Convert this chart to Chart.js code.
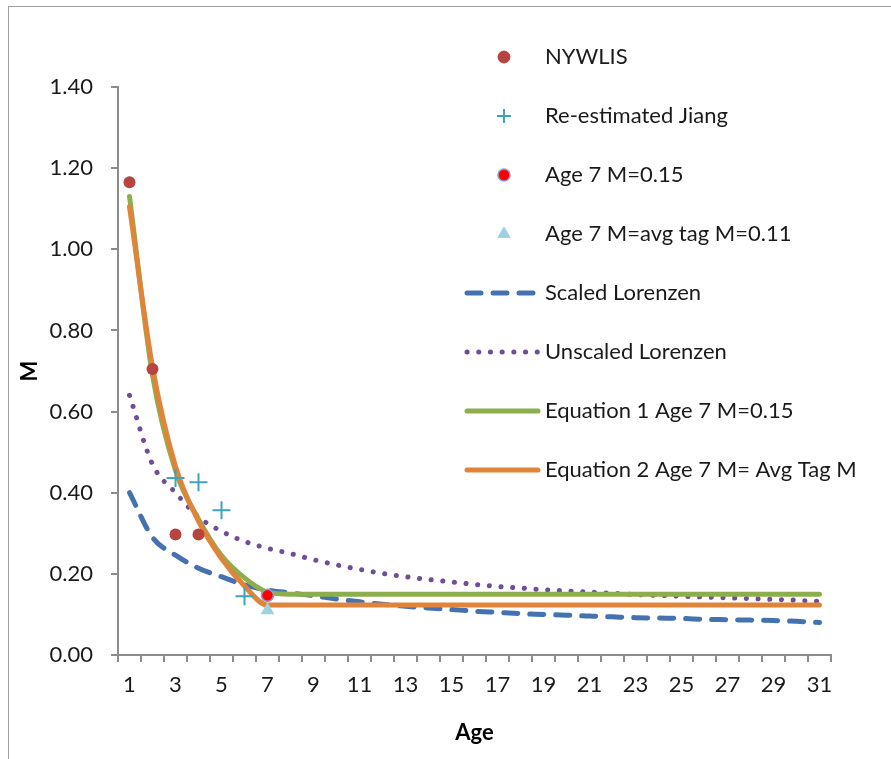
<!DOCTYPE html>
<html lang="en">
<head>
<meta charset="UTF-8">
<title>M by Age</title>
<script src="https://cdn.jsdelivr.net/npm/chart.js@4.4.0/dist/chart.umd.min.js"></script>
<style>
body {
margin: 0;
padding: 0;
background-color: white;
overflow: hidden;
}
.wrap {
position: relative;
width: 891px;
height: 759px;
}
.frame {
position: absolute;
left: 8px;
top: 6px;
width: 1000px;
height: 1000px;
border: 1px solid #a0a0a0;
}
canvas {
position: absolute;
left: 0;
top: 0;
}
</style>
</head>
<body>
<div class="wrap">
<div class="frame"></div>
<canvas id="mChart" width="891" height="759"></canvas>
</div>
<script>
// Data
const ages = ['1','2','3','4','5','6','7','8','9','10','11','12','13','14','15','16',
'17','18','19','20','21','22','23','24','25','26','27','28','29','30','31'];
const yTicks = [0, 0.2, 0.4, 0.6, 0.8, 1.0, 1.2, 1.4];

const nywlis = [1.165, 0.705, 0.297, 0.297, null, null, null, null, null, null, null, null, null, null, null, null,
null, null, null, null, null, null, null, null, null, null, null, null, null, null, null];
const jiang = [null, null, 0.436, 0.426, 0.357, 0.145, null, null, null, null, null, null, null, null, null, null,
null, null, null, null, null, null, null, null, null, null, null, null, null, null, null];
const age7M015 = [null, null, null, null, null, null, 0.147, null, null, null, null, null, null, null, null, null,
null, null, null, null, null, null, null, null, null, null, null, null, null, null, null];
const age7AvgTag = [null, null, null, null, null, null, 0.11, null, null, null, null, null, null, null, null, null,
null, null, null, null, null, null, null, null, null, null, null, null, null, null, null];
const scaledLorenzen = [0.40, 0.29, 0.246, 0.214, 0.193, 0.173, 0.16, 0.153, 0.146, 0.138, 0.131, 0.125, 0.120, 0.116, 0.112, 0.108,
0.105, 0.102, 0.100, 0.098, 0.096, 0.094, 0.092, 0.091, 0.090, 0.088, 0.087, 0.086, 0.085, 0.083, 0.080];
const unscaledLorenzen = [0.64, 0.47, 0.40, 0.34, 0.305, 0.28, 0.263, 0.25, 0.235, 0.222, 0.211, 0.201, 0.193, 0.186, 0.180, 0.174,
0.169, 0.165, 0.161, 0.158, 0.155, 0.152, 0.149, 0.147, 0.145, 0.143, 0.141, 0.139, 0.137, 0.135, 0.132];
const equation1 = [1.13, 0.69, 0.455, 0.335, 0.245, 0.19, 0.155, 0.15, 0.15, 0.15, 0.15, 0.15, 0.15, 0.15, 0.15, 0.15,
0.15, 0.15, 0.15, 0.15, 0.15, 0.15, 0.15, 0.15, 0.15, 0.15, 0.15, 0.15, 0.15, 0.15, 0.15];
const equation2 = [1.105, 0.71, 0.465, 0.33, 0.238, 0.17, 0.123, 0.123, 0.123, 0.123, 0.123, 0.123, 0.123, 0.123, 0.123, 0.123,
0.123, 0.123, 0.123, 0.123, 0.123, 0.123, 0.123, 0.123, 0.123, 0.123, 0.123, 0.123, 0.123, 0.123, 0.123];

const FONT = 'Lato, "Open Sans", sans-serif';
const axisGray = '#8c8c8c';

// point-only dataset
function pointSet(label, data, style, color, radius, extra) {
return Object.assign({
label: label,
data: data,
showLine: false,
pointStyle: style,
pointRadius: radius,
pointHoverRadius: radius,
backgroundColor: color,
borderColor: color,
pointBorderWidth: 0
}, extra || {});
}

// line-only dataset
function lineSet(label, data, color, width, dash, order) {
return {
label: label,
data: data,
borderColor: color,
backgroundColor: color,
borderWidth: width,
borderDash: dash,
borderCapStyle: 'round',
borderJoinStyle: 'round',
cubicInterpolationMode: 'monotone',
pointRadius: 0,
order: order
};
}

// legend drawn inside the plot, like the original
const insideLegend = {
id: 'insideLegend',
afterDraw(chart) {
const ctx = chart.ctx;
const top = 57, step = 59, symX = 504, lineX0 = 467, lineX1 = 538, textX = 545;
chart.data.datasets.forEach((ds, i) => {
const y = top + i * step;
ctx.save();
if (ds.showLine === false) {
ctx.fillStyle = ds.backgroundColor;
ctx.strokeStyle = ds.borderColor;
ctx.lineWidth = ds.pointBorderWidth || (ds.pointStyle === 'cross' ? 2 : 0);
const r = ds.pointStyle === 'cross' ? 7 : (ds.pointStyle === 'triangle' ? 7 : 6);
Chart.helpers.drawPoint(ctx, {pointStyle: ds.pointStyle, radius: r, borderWidth: ctx.lineWidth, rotation: 0}, symX, y);
} else {
ctx.strokeStyle = ds.borderColor;
ctx.lineWidth = ds.borderWidth;
ctx.lineCap = 'round';
ctx.setLineDash(ds.borderDash || []);
ctx.beginPath();
ctx.moveTo(lineX0, y);
ctx.lineTo(lineX1, y);
ctx.stroke();
}
ctx.restore();
ctx.save();
ctx.fillStyle = '#1a1a1a';
ctx.font = '22px ' + FONT;
ctx.textBaseline = 'middle';
ctx.fillText(ds.label, textX, y);
ctx.restore();
});
}
};

new Chart(document.getElementById('mChart'), {
type: 'line',
data: {
labels: ages,
datasets: [
pointSet('NYWLIS', nywlis, 'circle', '#b8443f', 6, {order: 0}),
pointSet('Re-estimated Jiang', jiang, 'cross', '#3ea3bb', 9, {pointBorderWidth: 2, order: 0}),
pointSet('Age 7 M=0.15', age7M015, 'circle', '#ff0000', 6, {borderColor: '#8c9ccf', pointBorderWidth: 1.5, order: 0}),
pointSet('Age 7 M=avg tag M=0.11', age7AvgTag, 'triangle', '#9dd2e0', 8, {order: 0}),
lineSet('Scaled Lorenzen', scaledLorenzen, '#4472b0', 5, [14, 12], 3),
lineSet('Unscaled Lorenzen', unscaledLorenzen, '#6f4e98', 5, [0.1, 11.6], 4),
lineSet('Equation 1 Age 7 M=0.15', equation1, '#8cae4c', 5, [], 2),
lineSet('Equation 2 Age 7 M= Avg Tag M', equation2, '#e0843a', 5, [], 1)
]
},
options: {
responsive: false,
animation: false,
layout: {padding: {top: 87, right: 60, left: 0, bottom: 0}},
plugins: {
legend: {display: false},
tooltip: {enabled: false}
},
scales: {
x: {
offset: true,
grid: {
offset: true,
drawOnChartArea: false,
drawTicks: true,
tickLength: 7,
color: axisGray,
lineWidth: 2
},
border: {color: axisGray, width: 2},
ticks: {
autoSkip: false,
maxRotation: 0,
padding: 10,
color: '#1a1a1a',
font: {family: FONT, size: 22},
callback: function(v, i) { return i % 2 === 0 ? ages[i] : ''; }
},
title: {
display: true,
text: 'Age',
color: '#000',
font: {family: FONT, size: 22, weight: 'bold'},
padding: {top: 0, bottom: 13}
},
afterFit: s => { s.height = 104; }
},
y: {
min: 0,
max: 1.4,
afterBuildTicks: s => { s.ticks = yTicks.map(v => ({value: v})); },
grid: {
drawOnChartArea: false,
tickLength: 7,
color: axisGray,
lineWidth: 2
},
border: {color: axisGray, width: 2},
ticks: {
padding: 18,
color: '#1a1a1a',
font: {family: FONT, size: 22},
callback: v => Number(v).toFixed(2)
},
title: {
display: true,
text: 'M',
color: '#000',
font: {family: FONT, size: 22, weight: 'bold'},
padding: {top: 17, bottom: 0}
},
afterFit: s => { s.width = 118; }
}
}
},
plugins: [insideLegend]
});
</script>
</body>
</html>
